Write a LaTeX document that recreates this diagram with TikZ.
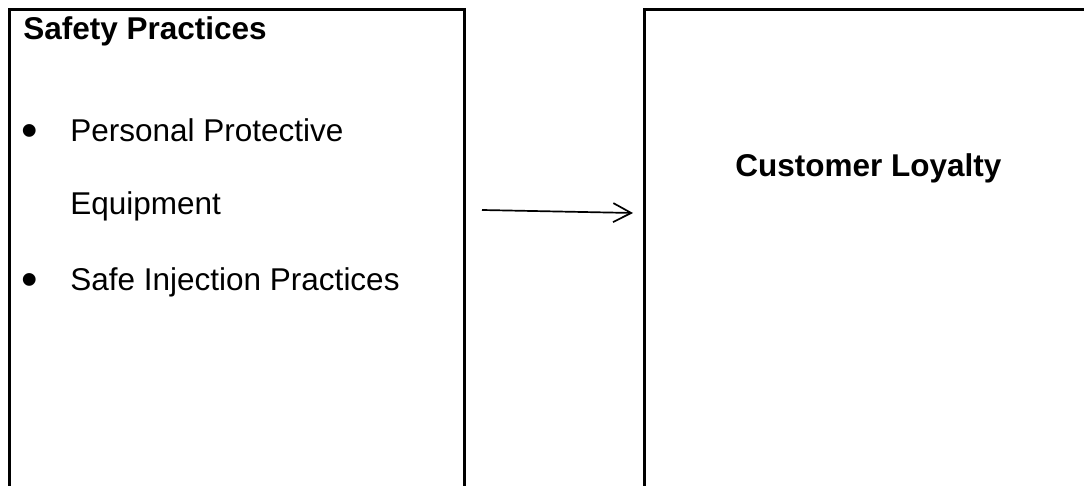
\documentclass[tikz,border=0pt]{standalone}
\usepackage{fontspec}
\setmainfont{Liberation Sans}
\usetikzlibrary{arrows.meta}
\begin{document}
\begin{tikzpicture}[x=0.5pt,y=-0.5pt,
  frame/.style={draw=black,line width=1.5pt,rectangle,anchor=north west,inner sep=0pt},
  txt/.style={anchor=base west,inner sep=0pt,font=\fontsize{15.75}{18}\selectfont},
  btxt/.style={txt,font=\fontsize{15.75}{18}\selectfont\bfseries},
  bul/.style={anchor=base west,inner sep=0pt,font=\fontsize{23.5}{26}\selectfont},
  link/.style={line width=0.85pt,-{Straight Barb[length=9pt,width=9.5pt,line width=0.85pt]}}]
\useasboundingbox (0,0) rectangle (1084,486);
\clip (0,0) rectangle (1084,486);
\node[frame,minimum width=227.5pt,minimum height=300pt] (left) at (8,8) {};
\node[frame,minimum width=300pt,minimum height=300pt] (right) at (643,8) {};
\node[btxt] (title) at (23,40) {Safety Practices};
\node[bul] (b1) at (21,147) {•};
\node[txt] (t1) at (70,142) {Personal Protective};
\node[txt] (t2) at (70,215) {Equipment};
\node[bul] (b2) at (21,296) {•};
\node[txt] (t3) at (70,291) {Safe Injection Practices};
\node[btxt] (cl) at (735,177) {Customer Loyalty};
\coordinate (a1) at (482,210);
\coordinate (a2) at (633,213);
\draw[link] (a1) -- (a2);
\end{tikzpicture}
\end{document}
